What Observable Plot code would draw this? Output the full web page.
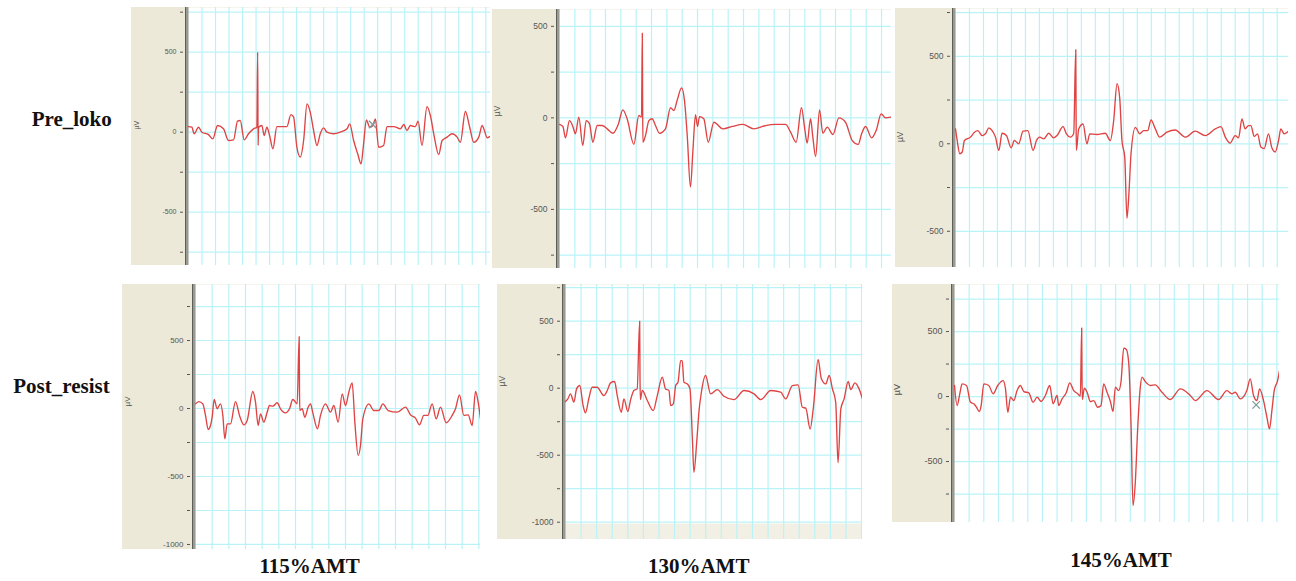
<!DOCTYPE html>
<html><head><meta charset="utf-8">
<script src="https://cdn.jsdelivr.net/npm/d3@7"></script>
<script src="https://cdn.jsdelivr.net/npm/@observablehq/plot@0.6"></script>
<style>
body{margin:0;background:#fff}
#fig{position:relative;width:1296px;height:581px;overflow:hidden;background:#fff}
.panel{position:absolute}
.lbl{position:absolute;font-family:"Liberation Serif","Times New Roman",serif;font-weight:bold;font-size:21px;line-height:21px;white-space:nowrap;color:#111}
</style></head><body><div id="fig"></div><script>
// Row / column labels
const rowLabels = ["Pre_loko", "Post_resist"];
const colLabels = ["115%AMT", "130%AMT", "145%AMT"];

// Time (ms, arbitrary 10-unit grid) and amplitude (µV) for each trace
const pre115_t = [0,2.5,4.2,7.4,9.9,14.8,18.0,21.5,25.9,29.6,33.3,36.3,38.3,41.2,44.4,48.1,50.6,51.2,51.5,51.9,54.3,56.0,58.0,60.0,62.5,65.4,70.4,72.8,75.8,77.8,80.2,82.7,85.2,87.7,90.1,92.6,95.1,97.5,100,102.5,107.4,112.3,117.3,119.3,122.2,125.2,127.7,129.6,131.6,134.1,136.5,138.3,140.7,144.4,146.9,151.9,156.8,159.3,161.7,164.2,167.9,169.9,172.8,176.5,179.0,181.5,185.2,187.7,191.4,195.1,198.8,201.2,204.9,208.1,211.1,214.8,217.3,219.0,221.0,223.0];
const pre115_uV = [35,31,-10,31,0,-15,-42,42,21,-52,-48,69,73,-48,-10,21,31,500,-83,31,42,-21,31,-21,-104,35,35,35,110,94,-94,-156,-52,177,125,10,-83,-10,27,0,-10,0,21,52,-52,-135,-198,-73,77,31,42,83,-94,-83,35,35,21,48,10,42,35,69,-83,160,104,-10,-140,-52,-31,-10,-31,-63,129,31,-63,-31,42,10,-35,-27];

const pre130_t = [0,2.2,3.9,6.5,8.7,10.4,12.6,15.2,17.4,19.6,21.7,24.6,27.8,31.1,34.8,38.3,41.3,44.1,48.5,51.7,53.5,54.0,54.2,54.4,56.1,58.3,60.4,62.6,65.2,69.1,72.4,74.6,76.7,79.6,81.5,83.3,85.4,87.0,88.7,90.0,91.3,94.1,97.0,100.7,106.5,112.6,119.6,126.7,134.3,140.9,147.4,150.7,154.3,157.8,160,161.5,163.7,165.2,167.0,169.6,171.7,174.6,178.3,182.2,186.5,190.9,194.8,197.0,199.6,203.5,206.5,209.8,212.6,215.9];
const pre130_uV = [-36,-47,-109,-15,-47,-87,4,-151,-15,-33,-133,-42,-42,-60,-84,-36,44,-5,-145,13,4,462,95,-133,-96,-15,-5,-42,-84,-60,55,40,95,164,95,-96,-378,-178,18,-47,7,-5,-133,-24,-60,-47,-36,-60,-42,-36,-36,-78,-133,55,-65,-138,-5,-105,-211,44,-84,-51,-91,0,-24,-124,-145,-87,-47,-109,-69,22,0,4];

const pre145_t = [0,1.2,3.1,4.8,6.4,10.7,13.6,16.0,19.0,21.4,23.8,26.2,28.6,31.0,33.3,36.4,39.8,42.1,45.2,48.3,51.7,55.5,57.9,60.2,63.1,66.7,70.2,72.6,76.9,79.3,82.1,84.5,86.0,86.2,86.4,88.1,91.2,94.0,96.0,101.2,107.1,110.7,113.1,115.5,117.4,119.0,121.0,122.6,124.0,125.5,128.6,131.7,134.5,137.4,139.8,142.9,146.0,151.2,157.1,164.3,171.4,178.6,185.7,189.8,192.9,196.4,200,202.4,204.8,207.1,209.5,211.2,213.6,216.0,218.3,220.7,223.8,226.2,228.6,231.0,232.6,235.0,238.1];
const pre145_uV = [85,19,-57,-47,19,38,66,75,47,57,91,75,38,-38,60,47,-23,19,0,72,75,-38,19,38,28,60,34,47,98,57,38,57,538,198,-38,85,113,0,57,53,60,19,132,343,264,19,-75,-425,-283,-57,94,57,75,75,136,85,38,66,79,38,72,47,85,98,38,4,47,34,142,85,104,104,42,57,-19,-28,57,-23,-47,19,85,57,72];

const post115_t = [0,2,4.4,6,7.6,9,10,11.2,13,15,16.4,17.6,19,21,24,26.4,29,31,34.4,36,37.6,39,41,43,44.4,46.4,49,51,54,56.4,58.4,61,62.2,62.4,62.6,64,65.6,67.6,69,70.4,73.2,75,78,81,83,85.6,88,90,92,94,95.6,97.6,99,100.4,104,107,110,112.4,115.6,121,126,129,132,134.4,137,139.4,142,144.4,147,150.4,154,156,158.4,161,163.6,166,168,169.6,171];
const post115_uV = [34,51,34,-51,-154,-125,-64,66,-2,34,-51,-223,-113,-113,51,-51,-120,-88,125,47,-125,-39,-100,-27,22,17,42,-2,-32,-2,66,34,529,132,-15,-2,-64,10,34,-32,-149,-51,34,-27,22,-100,108,22,120,189,-100,-345,-272,-76,34,-15,-15,34,-15,-27,10,-47,-71,-120,-51,-51,34,-76,10,-105,-51,-2,100,-51,-47,-125,125,47,-76];

const post130_t = [0,1.5,3.2,5.4,7.1,9.2,11.3,12.8,15.0,17.1,20.3,24.6,26.8,28.9,31.5,33.2,35.8,37.5,40.0,41.8,43.9,46.0,47.6,47.8,48.0,49.3,52.5,56.3,58.9,62.1,64.2,66.4,67.5,69.2,70.7,72.2,73.9,74.9,76.0,78.2,79.9,81.4,82.4,84.2,85.7,87.2,89.9,93.1,97.4,101.7,108.1,114.6,121.0,125.3,131.7,138.1,141.3,145.6,149.3,152.0,154.2,157.0,159.1,162.1,164.2,167.0,169.2,171.3,173.4,174.9,176.7,178.8,181.4,183.1,185.7,188.4,190.6];
const post130_uV = [-100,-80,-42,-104,-5,20,-129,-184,-75,7,7,-55,-17,40,50,-55,-179,-80,-174,-85,-17,-5,500,100,-85,-17,-92,-167,-55,82,-5,-17,-129,-117,20,45,206,206,45,32,-5,-366,-627,-403,-167,-30,95,-42,-10,-60,-85,-17,-42,-85,-17,-30,-80,20,25,-142,-149,-304,-142,214,70,32,95,-5,-104,-557,-154,-80,50,-10,40,-5,-80];

const post145_t = [0,1.8,3.6,5.2,8.2,10.9,13.2,15.0,16.8,18.2,20,23.4,26.4,29.5,33.2,34.8,36.4,38.2,40.5,42.7,45,47.3,50.7,53.6,56.4,59.1,62.0,65.0,67.3,70,71.1,73.4,76.4,78.6,81.4,84.1,85.9,86.8,87.0,87.2,88.6,90.5,92.7,95,97.7,100,101.8,104.1,106.4,108.2,109.8,112.0,113.6,115.5,117.3,118.9,120.5,121.8,123.4,125.0,126.8,128.0,130.2,133.6,137.0,141.6,147.3,154.1,160.9,164.3,172.3,180.2,185.9,189.3,191.6,195,199.5,201.8,204.1,206.4,208.2,210.9,213.2,215,216.6,218.2,220.5,221.8];
const post145_uV = [85,-69,21,97,85,-44,-56,-82,-115,-69,97,85,21,85,123,59,-121,-5,-31,46,85,38,28,-44,-5,-38,8,85,-56,8,-69,-18,33,105,46,21,3,528,187,-23,64,33,-38,-31,-82,-69,97,33,-38,-115,72,46,110,372,362,259,-223,-838,-659,-249,72,149,115,85,90,33,-23,59,8,-31,46,-23,46,21,33,-18,46,136,8,-31,59,-31,-159,-249,-108,46,123,200];

// Cursor markers (t, µV)
const pre115_marker = [136.3, 48];
const post145_marker = [205.9, -64];
// Lower limit of recorded window in panel post130 (µV)
const post130_floor = -1013;

const panels = [
  {t: pre115_t, v: pre115_uV, xMax: 223.5, yDom: [-833, 779], box: {left: 131, top: 7, width: 359, height: 258, ml: 57}, font: 7, marker: pre115_marker},
  {t: pre130_t, v: pre130_uV, xMax: 216.5, yDom: [-823, 592], box: {left: 492, top: 9, width: 399, height: 259, ml: 67}, font: 8.5},
  {t: pre145_t, v: pre145_uV, xMax: 238.1, yDom: [-707, 773], box: {left: 895, top: 8, width: 393, height: 259, ml: 60}, font: 8.5},
  {t: post115_t, v: post115_uV, xMax: 171, yDom: [-1037, 912], box: {left: 122, top: 284, width: 358, height: 265, ml: 73}, font: 8},
  {t: post130_t, v: post130_uV, xMax: 190.6, yDom: [-1129, 774], box: {left: 497, top: 284, width: 365, height: 255, ml: 68}, font: 8.5, floor: post130_floor},
  {t: post145_t, v: post145_uV, xMax: 221.8, yDom: [-969, 862], box: {left: 892, top: 284, width: 387, height: 238, ml: 62}, font: 9, marker: post145_marker}
];

const fig = document.getElementById("fig");
const GRID = "#b9f3f8", BEIGE = "#ece9d8";

panels.forEach(p => {
  const data = p.t.map((t, i) => ({t, v: p.v[i]}));
  const yTicks = d3.range(Math.ceil(p.yDom[0] / 250) * 250, p.yDom[1] + 1, 250);
  const xGrid = d3.range(10, p.xMax, 10);
  const ml = p.box.ml;
  const marks = [
    Plot.frame({fill: "white", stroke: "none"})
  ];
  if (p.floor !== undefined) {
    marks.push(Plot.rect([p.floor], {x1: 0, x2: p.xMax, y1: p.yDom[0], y2: d => d, fill: "#f2f0e4"}));
  }
  marks.push(
    Plot.ruleX(xGrid, {stroke: GRID, strokeWidth: 1.2}),
    Plot.ruleY(yTicks, {stroke: GRID, strokeWidth: 1.2}),
    Plot.axisY(yTicks, {anchor: "left", tickSize: 3, tickPadding: 4, dx: -5, label: null,
      tickFormat: d => (d % 500 === 0 ? String(d) : ""), fontSize: p.font, color: "#555"}),
    Plot.ruleX([0], {stroke: "#9a9a94", strokeWidth: 3, dx: -1.5}),
    Plot.ruleX([0], {stroke: "#5e5e58", strokeWidth: 1, dx: -3}),
    Plot.line(data, {x: "t", y: "v", stroke: "#df4343", strokeWidth: 1.35, curve: "monotone-x"}),
    Plot.text([0], {x: 0, y: 0, text: () => "µV", rotate: -90, dx: -(ml - 5), dy: -7, fontSize: p.font, fill: "#555"})
  );
  if (p.marker) {
    marks.push(Plot.dot([p.marker], {x: d => d[0], y: d => d[1], symbol: "times", r: 3.5, stroke: "#7a9c9c", strokeWidth: 1.3}));
  }
  const svg = Plot.plot({
    width: p.box.width, height: p.box.height,
    marginLeft: ml, marginRight: 0, marginTop: 0, marginBottom: 0,
    x: {domain: [0, p.xMax], axis: null},
    y: {domain: p.yDom},
    style: {background: BEIGE, overflow: "hidden", fontFamily: "'Liberation Sans', Arial, sans-serif"},
    marks
  });
  svg.classList.add("panel");
  svg.style.left = p.box.left + "px";
  svg.style.top = p.box.top + "px";
  svg.style.position = "absolute";
  fig.appendChild(svg);
});

// Row labels
const rowPos = [{left: 31.7, top: 109.1}, {left: 13.3, top: 375.7}];
rowLabels.forEach((txt, i) => {
  const d = document.createElement("div");
  d.className = "lbl";
  d.textContent = txt;
  d.style.left = rowPos[i].left + "px";
  d.style.top = rowPos[i].top + "px";
  fig.appendChild(d);
});
// Column labels
const colPos = [{cx: 309.7, top: 555.7}, {cx: 698.7, top: 556.4}, {cx: 1121, top: 550.1}];
colLabels.forEach((txt, i) => {
  const d = document.createElement("div");
  d.className = "lbl";
  d.textContent = txt;
  d.style.left = colPos[i].cx + "px";
  d.style.top = colPos[i].top + "px";
  d.style.transform = "translateX(-50%)";
  fig.appendChild(d);
});
</script></body></html>
